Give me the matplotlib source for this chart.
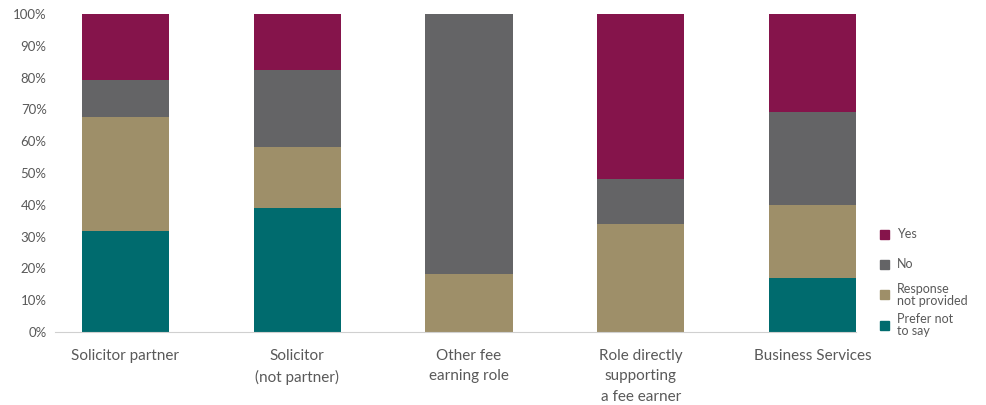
import matplotlib
matplotlib.use("Agg")
import matplotlib.pyplot as plt
from matplotlib.patches import Rectangle
import numpy as np

# categories and series (percent of respondents)
categories = ["Solicitor partner", "Solicitor\n(not partner)", "Other fee\nearning role",
              "Role directly\nsupporting\na fee earner", "Business Services"]
prefer_not = [31.8, 39.0, 0.0, 0.0, 17.0]
not_provided = [35.8, 19.2, 18.2, 34.0, 22.9]
no = [11.6, 24.2, 81.8, 14.1, 29.3]
yes = [20.8, 17.6, 0.0, 51.9, 30.8]

series = [("Prefer not\nto say", prefer_not, "#006B6E"),
          ("Response\nnot provided", not_provided, "#9E8F69"),
          ("No", no, "#646466"),
          ("Yes", yes, "#85144B")]

text_col = "#595959"
plt.rcParams["font.family"] = ["Lato", "DejaVu Sans"]

W, H = 986, 405
fig = plt.figure(figsize=(W / 100, H / 100), dpi=100)
ax = fig.add_axes([55 / W, 73 / H, 801 / W, 318 / H])

x = np.arange(len(categories))
bottom = np.zeros(len(categories))
for label, vals, col in series:
    ax.bar(x, vals, 0.507, bottom=bottom, color=col, label=label)
    bottom += np.array(vals)

ax.set_xlim(-0.41, 4.253)
ax.set_ylim(0, 100)
ax.set_yticks(np.arange(0, 101, 10))
ax.set_yticklabels([f"{v}%" for v in range(0, 101, 10)])
ax.set_xticks(x)
ax.set_xticklabels(categories, fontsize=11, linespacing=1.6)

for s in ["top", "right", "left"]:
    ax.spines[s].set_visible(False)
ax.spines["bottom"].set_color("#D0D0D0")
ax.tick_params(axis="both", length=0, colors=text_col)
ax.tick_params(axis="y", labelsize=9.5, pad=6)
ax.tick_params(axis="x", pad=12)

# legend: Yes on top, evenly spaced entries like the original
for i, (label, vals, col) in enumerate(series[::-1]):
    yc = 234 + i * 30.4
    fig.patches.append(Rectangle((880 / W, 1 - (yc + 4.5) / H), 9 / W, 9 / H,
                                 color=col, transform=fig.transFigure))
    fig.text(897 / W, 1 - yc / H, label, fontsize=9, color=text_col,
             va="center", ha="left", linespacing=1.0)

fig.savefig("out.png", dpi=100)
